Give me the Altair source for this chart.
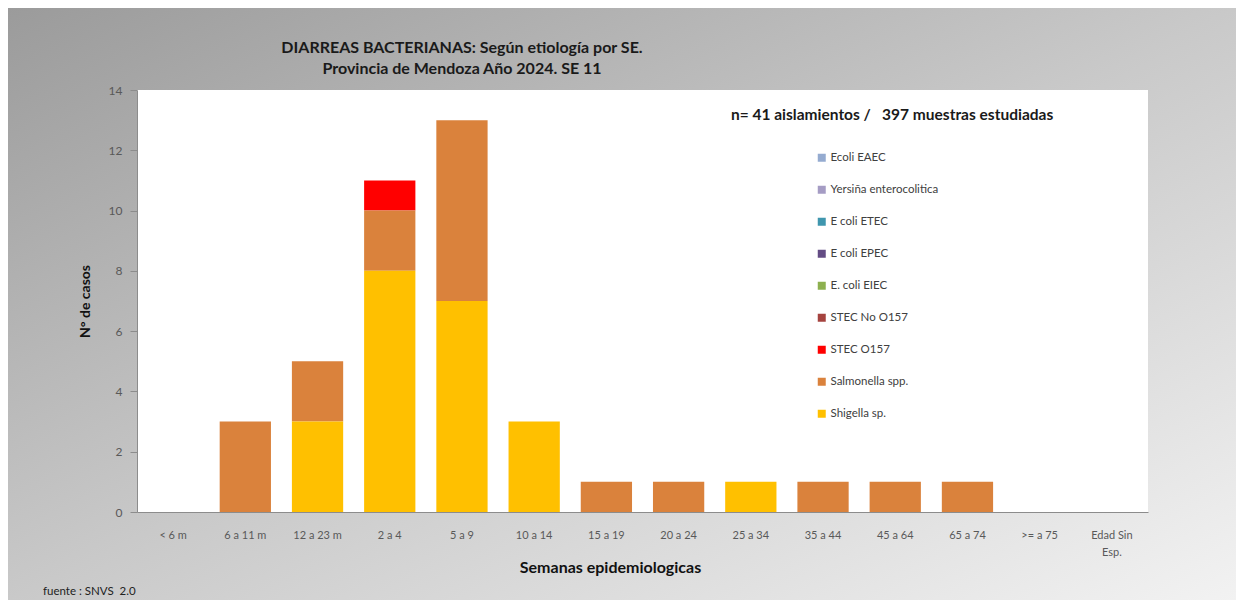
import altair as alt
import pandas as pd

categories = ["< 6 m", "6 a 11 m", "12 a 23 m", "2 a 4", "5 a 9", "10 a 14", "15 a 19",
              "20 a 24", "25 a 34", "35 a 44", "45 a 64", "65 a 74", ">= a 75", "Edad Sin Esp."]
series = ["Ecoli EAEC", "Yersiña enterocolitica", "E coli ETEC", "E coli EPEC", "E. coli EIEC",
          "STEC No O157", "STEC O157", "Salmonella spp.", "Shigella sp."]
colors = ["#95ABD0", "#A59CC4", "#3F96AE", "#634C84", "#8DB04F",
          "#A5433F", "#FF0000", "#DA823C", "#FFC000"]
stack_rank = {"Shigella sp.": 0, "Salmonella spp.": 1, "STEC O157": 2, "STEC No O157": 3,
              "E. coli EIEC": 4, "E coli EPEC": 5, "E coli ETEC": 6,
              "Yersiña enterocolitica": 7, "Ecoli EAEC": 8}

shigella   = [0, 0, 3, 8, 7, 3, 0, 0, 1, 0, 0, 0, 0, 0]
salmonella = [0, 3, 2, 2, 6, 0, 1, 1, 0, 1, 1, 1, 0, 0]
stec_o157  = [0, 0, 0, 1, 0, 0, 0, 0, 0, 0, 0, 0, 0, 0]
zeros      = [0] * 14
values = {
    "Ecoli EAEC": zeros, "Yersiña enterocolitica": zeros, "E coli ETEC": zeros,
    "E coli EPEC": zeros, "E. coli EIEC": zeros, "STEC No O157": zeros,
    "STEC O157": stec_o157, "Salmonella spp.": salmonella, "Shigella sp.": shigella,
}

title_lines = ["DIARREAS BACTERIANAS: Según etiología por SE.", "Provincia de Mendoza Año 2024. SE 11"]
note_text = "n= 41 aislamientos /\u00a0\u00a0\u00a0397 muestras estudiadas"
source_text = "fuente : SNVS\u00a0\u00a02.0"

rows = []
for s in series:
    for c, v in zip(categories, values[s]):
        rows.append({"grupo": c, "etiologia": s, "casos": v, "rank": stack_rank[s]})
df = pd.DataFrame(rows)

W, H = 1011, 422
PL, PT, PR, PB = 129, 82, 88, 88
FONT = "Lato"

bg = alt.Chart(alt.Data(values=[{}])).mark_rect(
    fill=alt.LinearGradient(gradient="linear", x1=0, y1=0, x2=1, y2=1,
                            stops=[alt.GradientStop(color="#9b9b9b", offset=0),
                                   alt.GradientStop(color="#c9c9c9", offset=0.5),
                                   alt.GradientStop(color="#f2f2f2", offset=1)])
).encode(x=alt.value(-PL), x2=alt.value(W + PR), y=alt.value(-PT), y2=alt.value(H + PB))

plotbg = alt.Chart(alt.Data(values=[{}])).mark_rect(fill="white").encode(
    x=alt.value(0), x2=alt.value(W), y=alt.value(0), y2=alt.value(H))

bars = alt.Chart(df).transform_filter("datum.casos > 0").mark_bar().encode(
    x=alt.X("grupo:N", sort=categories,
            scale=alt.Scale(domain=categories, paddingInner=0.29, paddingOuter=0.145),
            axis=alt.Axis(title="Semanas epidemiologicas", labelAngle=0, ticks=False,
                          labelPadding=17, labelFontSize=11, labelColor="#595959",
                          labelFont=FONT, domainColor="#8c8c8c", zindex=1,
                          labelExpr="datum.label == 'Edad Sin Esp.' ? ['Edad Sin', 'Esp.'] : datum.label",
                          labelLineHeight=17,
                          titleFont=FONT, titleFontSize=16, titleFontWeight="bold",
                          titleColor="#111111", titleX=473, titleY=55,
                          titleBaseline="middle", titleAlign="center")),
    y=alt.Y("casos:Q", stack="zero",
            scale=alt.Scale(domain=[0, 14], nice=False),
            axis=alt.Axis(title="N° de casos", values=list(range(0, 15, 2)), grid=False,
                          tickSize=7, tickColor="#8c8c8c", domainColor="#8c8c8c",
                          labelPadding=8, labelFontSize=12, labelColor="#595959",
                          labelFont=FONT, zindex=1,
                          titleFont=FONT, titleFontSize=14, titleFontWeight="bold",
                          titleColor="#111111", titlePadding=16)),
    color=alt.Color("etiologia:N", scale=alt.Scale(domain=series, range=colors),
                    legend=alt.Legend(title=None, orient="none", legendX=679, legendY=62,
                                      symbolType="square", symbolSize=64,
                                      symbolStrokeWidth=0, rowPadding=19,
                                      labelFont=FONT, labelFontSize=11.5,
                                      labelColor="#404040", labelOffset=3,
                                      values=series)),
    order=alt.Order("rank:Q", sort="ascending"),
)

title = alt.Chart(alt.Data(values=[{"t": title_lines[0], "yy": -42},
                                   {"t": title_lines[1], "yy": -21}])).mark_text(
    font=FONT, fontSize=16, fontWeight="bold", color="#1a1a1a", align="center",
    baseline="middle"
).encode(text="t:N", x=alt.value(325), y=alt.Y("yy:Q", scale=None))

note = alt.Chart(alt.Data(values=[{}])).mark_text(
    text=note_text, font=FONT, fontSize=15.5, fontWeight="bold", color="#1a1a1a",
    align="left", baseline="middle"
).encode(x=alt.value(594), y=alt.value(25))

source = alt.Chart(alt.Data(values=[{}])).mark_text(
    text=source_text, font=FONT, fontSize=11.5, color="#222222",
    align="left", baseline="middle"
).encode(x=alt.value(-94), y=alt.value(502))

chart = alt.layer(bg, plotbg, bars, title, note, source).properties(
    width=W, height=H,
    padding={"left": PL, "top": PT, "right": PR, "bottom": PB},
    autosize=alt.AutoSizeParams(type="none"),
).configure_view(stroke=None).configure(background="transparent")

chart.save("out.html", embed_options={"renderer": "svg", "actions": False})
